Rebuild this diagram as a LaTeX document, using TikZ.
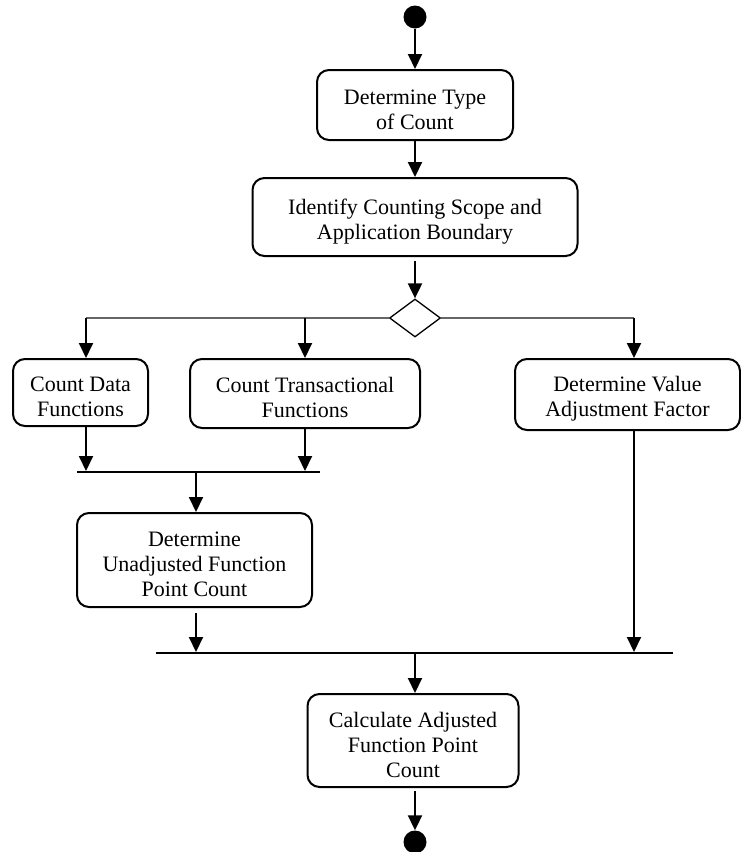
\documentclass[tikz,border=0pt]{standalone}
\usepackage{fontspec}
\setmainfont{Liberation Serif}
\usetikzlibrary{arrows.meta,shapes.geometric}
\newcommand{\actfont}{\fontsize{22}{25}\selectfont}
% extra room above the first line, so the text sits a little low in its box
\newcommand{\fls}{\rule{0pt}{24pt}}
\tikzset{
  act/.style={draw, line width=2pt, rounded corners=12pt, inner sep=0pt,
    align=center, font=\actfont},
  arr/.style={line width=2pt, -{Triangle[width=14pt,length=15pt]}},
  joinbar/.style={line width=2.4pt},
  branchline/.style={line width=1.3pt, draw=black!60},
  dot/.style={circle, fill=black, minimum size=23pt, inner sep=0pt},
}
\begin{document}
\begin{tikzpicture}[x=1pt,y=-1pt]
\useasboundingbox (0,0) rectangle (741,852);

% activities
\node[dot] (start) at (415,17) {};
\node[act, minimum width=196pt, minimum height=70pt] (type) at (415,105) {\fls Determine Type\\of Count};
\node[act, minimum width=325pt, minimum height=78pt] (scope) at (415,217) {\fls Identify Counting Scope and\\Application Boundary};
\node[diamond, draw, line width=1.3pt, minimum width=51pt, minimum height=38pt, inner sep=0pt] (dec) at (415,318) {};
\node[act, minimum width=135pt, minimum height=67pt] (cdf) at (80.5,392.5) {\fls Count Data\\Functions};
\node[act, minimum width=230pt, minimum height=69pt] (ctf) at (305,393.5) {\fls Count Transactional\\Functions};
\node[act, minimum width=225pt, minimum height=71pt] (vaf) at (627.5,394.5) {\fls Determine Value\\Adjustment Factor};
\node[act, minimum width=235pt, minimum height=94pt] (ufp) at (194.5,560) {\fls Determine\\Unadjusted Function\\Point Count};
\node[act, minimum width=211pt, minimum height=93pt] (afp) at (413,740.5) {\fls Calculate Adjusted\\Function Point\\Count};
\node[dot] (stop) at (415,842) {};

% branch and join points
\coordinate (bL) at (86,318);
\coordinate (bM) at (305,318);
\coordinate (bR) at (634,318);
\coordinate (j1w) at (77,472);
\coordinate (j1e) at (320,472);
\coordinate (j1a) at (86,471);
\coordinate (j1b) at (305,471);
\coordinate (j1o) at (196,472);
\coordinate (j2w) at (156,653);
\coordinate (j2e) at (673,653);
\coordinate (j2a) at (196,652);
\coordinate (j2b) at (634,652);
\coordinate (j2o) at (415,653);

% flow
\draw[arr] (start) -- (type);
\draw[arr] (type) -- (scope);
\draw[arr, shorten <=4pt] (scope) -- (dec);

\draw[branchline] (dec.west) -- (bL) (dec.east) -- (bR);
\draw[arr] (bL) -- (cdf.north -| bL);
\draw[arr] (bM) -- (ctf.north);
\draw[arr] (bR) -- (vaf.north -| bR);

\draw[joinbar] (j1w) -- (j1e);
\draw[arr] (cdf.south -| j1a) -- (j1a);
\draw[arr] (ctf.south) -- (j1b);
\draw[arr] (j1o) -- (ufp.north -| j1o);

\draw[joinbar] (j2w) -- (j2e);
\draw[arr, shorten <=5pt] (ufp.south -| j2a) -- (j2a);
\draw[arr] (vaf.south -| j2b) -- (j2b);
\draw[arr] (j2o) -- (afp.north -| j2o);
\draw[arr, shorten <=3pt] (afp.south -| stop) -- (stop);
\end{tikzpicture}
\end{document}
